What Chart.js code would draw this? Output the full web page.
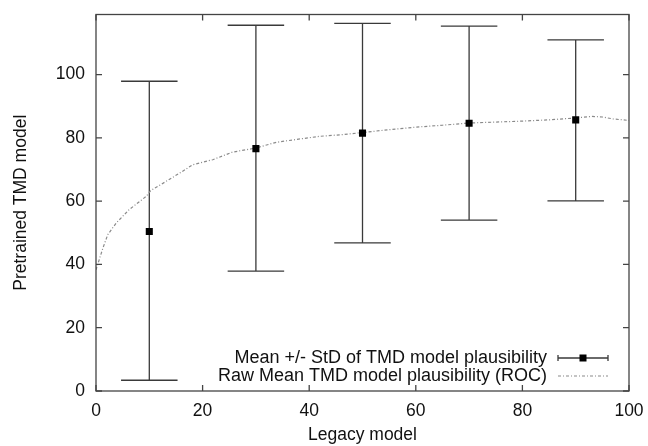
<!DOCTYPE html>
<html>
<head>
<meta charset="utf-8">
<script src="https://cdn.jsdelivr.net/npm/chart.js@4.4.1/dist/chart.umd.min.js"></script>
<style>
  body { margin: 0; background: #fff; }
  canvas { display: block; }
</style>
</head>
<body>
<canvas id="plausChart" width="648" height="446"></canvas>
<script>
// mean +/- std of the TMD model plausibility, per bin of the legacy model
const meanX = [10, 30, 50, 70, 90];
const meanY = [50.4, 76.6, 81.5, 84.6, 85.7];
const stdLow = [3.4, 37.9, 46.8, 54.0, 60.1];
const stdHigh = [97.9, 115.6, 116.2, 115.3, 111.0];

// raw mean curve (ROC)
const rocX = [0, 0.3, 1.3, 2.2, 3.8, 6.2, 9.4, 10.3, 13.1, 16.2, 18.1, 21.9, 25.6, 30, 33.8, 38, 42, 46, 50, 55, 60, 65, 70, 75, 80, 85, 90, 93, 95, 97, 100];
const rocY = [38.3, 39.9, 45.2, 49.4, 53.1, 57.3, 61.5, 63.4, 66.2, 69.4, 71.5, 73.1, 75.5, 76.8, 78.6, 79.6, 80.5, 81.0, 81.7, 82.6, 83.4, 84.0, 84.7, 85.0, 85.3, 85.7, 86.3, 86.8, 86.6, 86.0, 85.5];

const xTicks = [0, 20, 40, 60, 80, 100];
const yTicks = [0, 20, 40, 60, 80, 100];

const labelMean = 'Mean +/- StD of TMD model plausibility';
const labelRoc = 'Raw Mean TMD model plausibility (ROC)';

const FONT = '"Liberation Sans", Arial, sans-serif';
const capHalf = 5.3; // half width of the error bar caps, in x units
const barColor = '#3a3a3a';
const rocColor = '#8a8a8a';
const rocDash = [3, 2, 1, 2];

// no automatic label padding, the plot box is fixed by layout.padding
function noPad(s) {
    s.paddingTop = 0; s.paddingBottom = 0;
    s.paddingLeft = 0; s.paddingRight = 0;
}

const errorBars = {
    id: 'errorBars',
    beforeDatasetsDraw(chart) {
        const ctx = chart.ctx;
        const xs = chart.scales.x, ys = chart.scales.y;
        ctx.save();
        ctx.strokeStyle = barColor;
        ctx.lineWidth = 1.3;
        meanX.forEach((x, i) => {
            const px = xs.getPixelForValue(x);
            const lo = ys.getPixelForValue(stdLow[i]);
            const hi = ys.getPixelForValue(stdHigh[i]);
            const l = xs.getPixelForValue(x - capHalf);
            const r = xs.getPixelForValue(x + capHalf);
            ctx.beginPath();
            ctx.moveTo(px, lo); ctx.lineTo(px, hi);
            ctx.moveTo(l, lo); ctx.lineTo(r, lo);
            ctx.moveTo(l, hi); ctx.lineTo(r, hi);
            ctx.stroke();
        });
        ctx.restore();
    }
};

// gnuplot style frame with ticks pointing inward on all four sides
const frame = {
    id: 'frame',
    afterDraw(chart) {
        const ctx = chart.ctx;
        const a = chart.chartArea;
        const xs = chart.scales.x, ys = chart.scales.y;
        const tl = 6;
        ctx.save();
        ctx.strokeStyle = '#444';
        ctx.lineWidth = 1.3;
        ctx.strokeRect(a.left, a.top, a.right - a.left, a.bottom - a.top);
        ctx.beginPath();
        xTicks.forEach(v => {
            const px = xs.getPixelForValue(v);
            ctx.moveTo(px, a.bottom); ctx.lineTo(px, a.bottom - tl);
            ctx.moveTo(px, a.top); ctx.lineTo(px, a.top + tl);
        });
        yTicks.forEach(v => {
            const py = ys.getPixelForValue(v);
            ctx.moveTo(a.left, py); ctx.lineTo(a.left + tl, py);
            ctx.moveTo(a.right, py); ctx.lineTo(a.right - tl, py);
        });
        ctx.stroke();
        ctx.restore();
    }
};

const keyBox = {
    id: 'keyBox',
    afterDraw(chart) {
        const ctx = chart.ctx;
        const textRight = 547, sx0 = 558, sx1 = 608;
        const rows = [358, 376];
        ctx.save();
        ctx.font = '18px ' + FONT;
        ctx.fillStyle = '#111';
        ctx.textAlign = 'right';
        ctx.textBaseline = 'middle';
        ctx.fillText(labelMean, textRight, rows[0]);
        ctx.fillText(labelRoc, textRight, rows[1]);

        // error bar sample
        ctx.strokeStyle = barColor;
        ctx.lineWidth = 1.3;
        ctx.beginPath();
        ctx.moveTo(sx0, rows[0]); ctx.lineTo(sx1, rows[0]);
        ctx.moveTo(sx0, rows[0] - 3); ctx.lineTo(sx0, rows[0] + 3);
        ctx.moveTo(sx1, rows[0] - 3); ctx.lineTo(sx1, rows[0] + 3);
        ctx.stroke();
        ctx.fillStyle = '#000';
        ctx.fillRect((sx0 + sx1) / 2 - 3.5, rows[0] - 3.5, 7, 7);

        // curve sample
        ctx.strokeStyle = rocColor;
        ctx.lineWidth = 1.2;
        ctx.setLineDash(rocDash);
        ctx.beginPath();
        ctx.moveTo(sx0, rows[1]); ctx.lineTo(sx1, rows[1]);
        ctx.stroke();
        ctx.restore();
    }
};

const ctx = document.getElementById('plausChart').getContext('2d');
new Chart(ctx, {
    type: 'scatter',
    data: {
        datasets: [{
            type: 'line',
            label: labelRoc,
            data: rocX.map((x, i) => ({ x: x, y: rocY[i] })),
            borderColor: rocColor,
            borderWidth: 1.2,
            borderDash: rocDash,
            pointRadius: 0,
            tension: 0,
            fill: false,
            order: 1
        }, {
            label: labelMean,
            data: meanX.map((x, i) => ({ x: x, y: meanY[i] })),
            pointStyle: 'rect',
            pointRadius: 5,
            backgroundColor: '#000',
            borderColor: '#000',
            borderWidth: 0,
            order: 0
        }]
    },
    options: {
        responsive: false,
        animation: false,
        layout: { padding: { top: 14.5, right: 19, left: 0, bottom: 0 } },
        plugins: {
            legend: { display: false },
            tooltip: { enabled: false }
        },
        scales: {
            x: {
                type: 'linear',
                min: 0,
                max: 100,
                afterFit: s => { s.height = 55; noPad(s); },
                afterBuildTicks: s => { s.ticks = xTicks.map(v => ({ value: v })); },
                grid: { display: false, drawTicks: false },
                border: { display: false },
                ticks: {
                    color: '#111',
                    padding: 10,
                    font: { family: FONT, size: 17.5 }
                },
                title: {
                    display: true,
                    text: 'Legacy model',
                    color: '#111',
                    font: { family: FONT, size: 17.5 },
                    padding: { top: 0, bottom: 0 }
                }
            },
            y: {
                min: 0,
                max: 119,
                afterFit: s => { s.width = 96; noPad(s); },
                afterBuildTicks: s => { s.ticks = yTicks.map(v => ({ value: v })); },
                grid: { display: false, drawTicks: false },
                border: { display: false },
                ticks: {
                    color: '#111',
                    padding: 11,
                    font: { family: FONT, size: 17.5 }
                },
                title: {
                    display: true,
                    text: 'Pretrained TMD model',
                    color: '#111',
                    font: { family: FONT, size: 17.5 },
                    padding: { top: 11, bottom: 0 }
                }
            }
        }
    },
    plugins: [errorBars, frame, keyBox]
});
</script>
</body>
</html>
